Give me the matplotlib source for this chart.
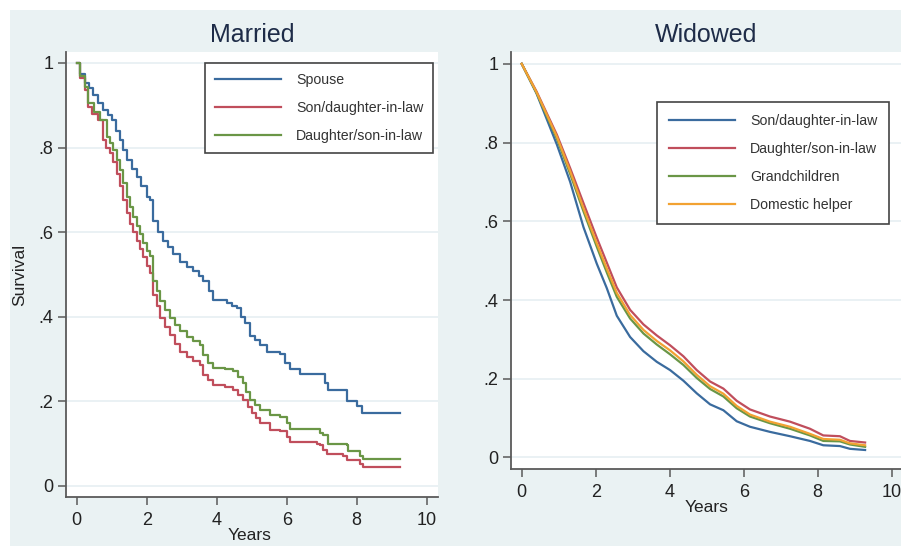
import matplotlib
matplotlib.use("Agg")
import matplotlib.pyplot as plt
from matplotlib.patches import Rectangle

plt.rcParams['font.family'] = ['Liberation Sans', 'DejaVu Sans']

# ---- data ----
x_ticks = [0, 2, 4, 6, 8, 10]
y_ticks = [0, 0.2, 0.4, 0.6, 0.8, 1.0]
y_tick_labels = ['0', '.2', '.4', '.6', '.8', '1']

# Married: Kaplan-Meier step curves
m_spouse_t = [0, 0.1, 0.24, 0.35, 0.47, 0.6, 0.76, 0.9, 1.0, 1.12, 1.24, 1.33, 1.43,
              1.57, 1.71, 1.85, 2.0, 2.1, 2.19, 2.33, 2.47, 2.62, 2.76, 2.95, 3.14,
              3.33, 3.5, 3.62, 3.78, 3.9, 4.29, 4.45, 4.57, 4.7, 4.8, 4.95, 5.1, 5.24,
              5.43, 5.81, 5.95, 6.1, 6.38, 6.95, 7.1, 7.19, 7.71, 8.0, 8.14, 9.24]
m_spouse_s = [1.0, 0.975, 0.952, 0.94, 0.925, 0.905, 0.889, 0.878, 0.865, 0.84, 0.817,
              0.795, 0.77, 0.75, 0.73, 0.71, 0.683, 0.675, 0.627, 0.6, 0.579, 0.565,
              0.548, 0.528, 0.518, 0.508, 0.495, 0.484, 0.46, 0.44, 0.433, 0.425, 0.42,
              0.40, 0.385, 0.354, 0.345, 0.333, 0.317, 0.312, 0.29, 0.275, 0.263,
              0.263, 0.242, 0.226, 0.20, 0.188, 0.172, 0.172]

m_son_t = [0, 0.1, 0.24, 0.33, 0.45, 0.62, 0.76, 0.85, 0.95, 1.05, 1.14, 1.24, 1.33,
           1.43, 1.52, 1.62, 1.71, 1.81, 1.9, 2.0, 2.1, 2.19, 2.29, 2.38, 2.52, 2.67,
           2.81, 2.95, 3.14, 3.33, 3.52, 3.62, 3.76, 3.9, 4.24, 4.47, 4.62, 4.76, 4.88,
           5.0, 5.12, 5.24, 5.52, 5.81, 6.0, 6.1, 6.86, 6.95, 7.05, 7.14, 7.62, 7.71,
           8.1, 8.19, 9.24]
m_son_s = [1.0, 0.965, 0.937, 0.897, 0.88, 0.865, 0.817, 0.80, 0.786, 0.765, 0.738,
           0.71, 0.675, 0.645, 0.619, 0.60, 0.579, 0.56, 0.54, 0.52, 0.504, 0.452,
           0.425, 0.397, 0.375, 0.357, 0.335, 0.317, 0.305, 0.294, 0.286, 0.262, 0.25,
           0.238, 0.234, 0.226, 0.215, 0.202, 0.185, 0.171, 0.16, 0.147, 0.131, 0.128,
           0.115, 0.103, 0.098, 0.095, 0.085, 0.075, 0.07, 0.06, 0.052, 0.045, 0.045]

m_dau_t = [0, 0.1, 0.24, 0.33, 0.5, 0.67, 0.86, 0.95, 1.05, 1.14, 1.24, 1.33, 1.43,
           1.52, 1.62, 1.71, 1.81, 1.9, 2.0, 2.1, 2.19, 2.29, 2.38, 2.52, 2.67, 2.81,
           2.95, 3.14, 3.33, 3.52, 3.62, 3.76, 3.9, 4.24, 4.47, 4.62, 4.76, 4.85, 4.95,
           5.1, 5.24, 5.52, 5.81, 6.0, 6.1, 6.95, 7.05, 7.19, 7.71, 7.76, 8.1, 8.19, 9.24]
m_dau_s = [1.0, 0.97, 0.944, 0.905, 0.885, 0.865, 0.825, 0.81, 0.794, 0.77, 0.746,
           0.715, 0.683, 0.66, 0.635, 0.615, 0.595, 0.575, 0.556, 0.544, 0.484, 0.46,
           0.437, 0.415, 0.397, 0.38, 0.365, 0.352, 0.341, 0.333, 0.31, 0.29, 0.278,
           0.275, 0.27, 0.258, 0.242, 0.222, 0.202, 0.19, 0.179, 0.167, 0.163, 0.147,
           0.135, 0.125, 0.119, 0.099, 0.095, 0.083, 0.071, 0.063, 0.063]

# Widowed: many small steps, read as a smooth curve
w_t = [0, 0.4, 0.95, 1.31, 1.67, 2.03, 2.3, 2.57, 2.93, 3.29, 3.65, 4.01, 4.37, 4.73,
       5.09, 5.45, 5.81, 6.17, 6.71, 7.25, 7.79, 8.15, 8.6, 8.87, 9.28]
w_son = [1.0, 0.925, 0.795, 0.70, 0.585, 0.492, 0.43, 0.36, 0.306, 0.27, 0.243, 0.222,
         0.195, 0.163, 0.135, 0.12, 0.092, 0.078, 0.065, 0.054, 0.042, 0.031, 0.029,
         0.022, 0.019]
w_dau = [1.0, 0.93, 0.82, 0.735, 0.646, 0.558, 0.495, 0.432, 0.375, 0.338, 0.31, 0.285,
         0.257, 0.222, 0.193, 0.175, 0.144, 0.122, 0.104, 0.091, 0.073, 0.056, 0.054,
         0.042, 0.038]
w_grand = [1.0, 0.926, 0.81, 0.72, 0.625, 0.535, 0.47, 0.408, 0.353, 0.315, 0.287,
           0.262, 0.235, 0.202, 0.174, 0.155, 0.125, 0.104, 0.087, 0.073, 0.056, 0.042,
           0.041, 0.033, 0.027]
w_helper = [1.0, 0.928, 0.815, 0.727, 0.633, 0.544, 0.48, 0.418, 0.362, 0.324, 0.296,
            0.272, 0.244, 0.21, 0.181, 0.162, 0.131, 0.109, 0.091, 0.078, 0.06, 0.047,
            0.045, 0.036, 0.031]

BLUE, RED, GREEN, ORANGE = '#3a6b9e', '#c04e5c', '#6a9646', '#f2a232'
BG = '#eaf2f3'
W, H = 901, 546

fig = plt.figure(figsize=(W / 100, H / 100), dpi=100, facecolor='white')
fig.add_artist(Rectangle((10 / W, 0), 1, (H - 10) / H, transform=fig.transFigure,
                         facecolor=BG, edgecolor='none', zorder=0))


def px_axes(left, top, right, bottom):
    return fig.add_axes([left / W, 1 - bottom / H, (right - left) / W, (bottom - top) / H])


def style(ax):
    ax.set_facecolor('white')
    for s in ('top', 'right'):
        ax.spines[s].set_visible(False)
    for s in ('left', 'bottom'):
        ax.spines[s].set_color('#5a5a5a')
        ax.spines[s].set_linewidth(1.3)
    ax.set_xticks(x_ticks)
    ax.set_yticks(y_ticks)
    ax.set_yticklabels(y_tick_labels)
    ax.tick_params(direction='out', length=6, width=1.1, color='#5a5a5a',
                   labelsize=13, labelcolor='#222222')
    ax.tick_params(axis='y', pad=3)
    ax.tick_params(axis='x', pad=5)
    ax.yaxis.grid(True, color='#e6eff2', lw=1.2)
    ax.set_axisbelow(True)


def legend(ax, x, y, pad):
    leg = ax.legend(loc='upper left', bbox_to_anchor=(x / W, 1 - y / H),
                    bbox_transform=fig.transFigure, borderaxespad=0, fancybox=False,
                    edgecolor='#444444', framealpha=1, fontsize=10.2, handlelength=4.7,
                    handletextpad=1.05, labelspacing=1.0, borderpad=pad)
    leg.get_frame().set_linewidth(1.2)
    for t in leg.get_texts():
        t.set_color('#333333')


# ---- Married ----
ax1 = px_axes(66, 52, 438, 497)
style(ax1)
ax1.plot(m_spouse_t, m_spouse_s, drawstyle='steps-post', color=BLUE, lw=1.6, label='Spouse')
ax1.plot(m_son_t, m_son_s, drawstyle='steps-post', color=RED, lw=1.6, label='Son/daughter-in-law')
ax1.plot(m_dau_t, m_dau_s, drawstyle='steps-post', color=GREEN, lw=1.6, label='Daughter/son-in-law')
ax1.set_xlim(-0.306, 10.323)
ax1.set_ylim(-0.027, 1.026)
ax1.set_title('Married', fontsize=18, color='#1e2c48', y=(497 - 35) / 445, pad=0, va='center')
ax1.set_xlabel('Years', fontsize=12.5, color='#222222')
ax1.xaxis.set_label_coords((250 - 66) / 372, -(528 - 497) / 445)
ax1.set_ylabel('Survival', fontsize=12.5, color='#222222')
ax1.yaxis.set_label_coords(-0.105, (497 - 275) / 445)
legend(ax1, 205, 63, 0.68)

# ---- Widowed ----
ax2 = px_axes(511, 52, 901, 468.5)
style(ax2)
ax2.plot(w_t, w_son, color=BLUE, lw=1.6, label='Son/daughter-in-law')
ax2.plot(w_t, w_dau, color=RED, lw=1.6, label='Daughter/son-in-law')
ax2.plot(w_t, w_grand, color=GREEN, lw=1.6, label='Grandchildren')
ax2.plot(w_t, w_helper, color=ORANGE, lw=1.6, label='Domestic helper')
ax2.set_xlim(-0.289, 10.25)
ax2.set_ylim(-0.028, 1.030)
ax2.set_title('Widowed', fontsize=18, color='#1e2c48', y=(468.5 - 35) / 416.5, pad=0, va='center')
ax2.set_xlabel('Years', fontsize=12.5, color='#222222')
ax2.xaxis.set_label_coords((707 - 511) / 390, -(500 - 468.5) / 416.5)
legend(ax2, 657, 102, 0.82)

fig.savefig('out.png', dpi=100, facecolor=fig.get_facecolor())
